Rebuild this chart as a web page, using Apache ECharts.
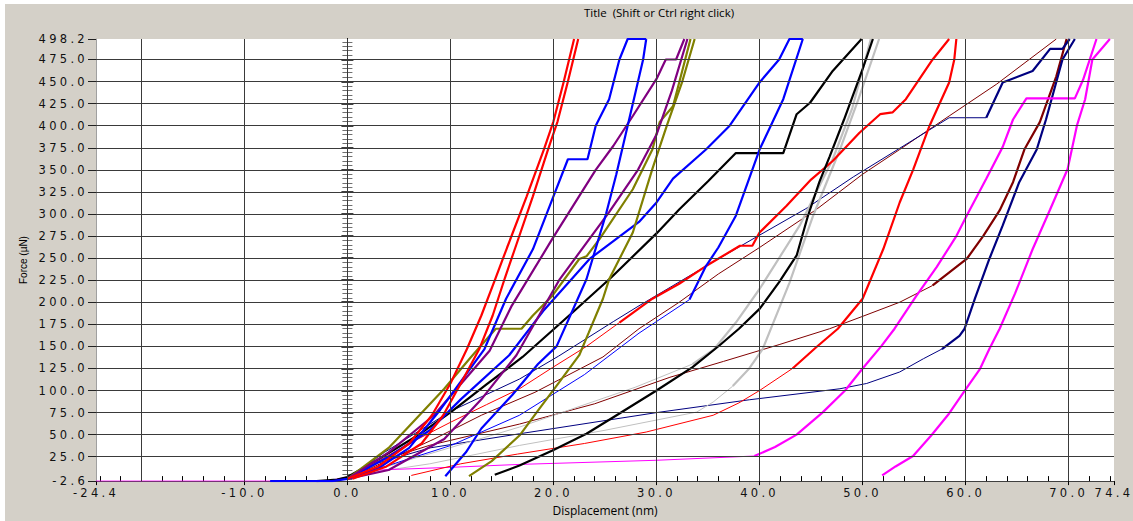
<!DOCTYPE html>
<html><head><meta charset="utf-8"><title>Force vs Displacement</title>
<script src="https://cdn.jsdelivr.net/npm/echarts@6.0.0/dist/echarts.min.js"></script>
<style>
html,body{margin:0;padding:0;background:#fff;width:1133px;height:521px;overflow:hidden;}
#chart{position:absolute;left:5px;top:4px;width:1128px;height:517px;}
#chart text[style*="DejaVu"]{letter-spacing:3.3px;}
</style></head><body><div id="chart"></div>
<script>
// ---- axis values ----
const xLabelValues = [-24.4, -10, 0, 10, 20, 30, 40, 50, 60, 70, 74.4];
const xGridValues = [-20, -10, 0, 10, 20, 30, 40, 50, 60, 70];
const yLabelValues = [-2.6, 25, 50, 75, 100, 125, 150, 175, 200, 225, 250, 275, 300, 325, 350, 375, 400, 425, 450, 475, 498.2];
const yGridValues = [25, 50, 75, 100, 125, 150, 175, 200, 225, 250, 275, 300, 325, 350, 375, 400, 425, 450, 475];
const xMin = -24.4, xMax = 74.4, yMin = -2.6, yMax = 498.2;
const xMinorValues = []; for (let v = -24; v <= 74; v += 2) xMinorValues.push(v);
const zeroMinorValues = []; for (let v = 0; v <= 495; v += 5) zeroMinorValues.push(v);
const zeroMajorValues = yGridValues;

// ---- curves: [displacement nm, force uN] ----
const r1 = [[0,0],[3,14],[6,40],[8.2,72],[10,108],[11.6,147],[13,185],[14.4,228],[15.5,262],[17.4,320],[19.1,374],[20,405],[21,450],[22,498.2]];
const r2 = [[0.5,0],[3.8,14],[7.2,40],[9.3,72],[11,108],[12.8,147],[14.1,185],[15.3,228],[16.3,262],[18,320],[19.5,374],[20.4,405],[21.4,450],[22.4,498.2]];
const r3 = [[0,0],[3,20],[6,40],[10,64],[13.5,84],[16.7,102],[19.9,126],[23.2,150],[26.4,177],[29.6,204],[32.2,221],[34.8,241],[38.1,264],[39.3,264],[40,279],[42.6,309],[45,339],[47.1,360],[49.7,392],[51.7,413],[52.9,415],[54.2,430],[56.8,475],[58.4,498.2]];
const r4 = [[6.2,3.8],[11,17],[16.5,28],[23,40],[29,53],[35.5,72],[38,86],[40,100],[43.2,125],[45.5,149],[47.6,170],[50,204],[52,260],[53.6,313],[54.9,350],[56.5,400],[58.4,449],[58.9,475],[59.1,498.2]];
const b1 = [[-7.5,-2.6],[-1.5,-2.6],[0,0],[3,12],[6,35],[9,78],[11,110],[13.3,147],[15.4,204],[18,260],[19.9,317],[21.4,362],[23.3,362],[24.1,400],[25.4,430],[26.4,475],[27.2,498.2],[29,498.2]];
const b2 = [[9.5,3],[11.5,30],[13,57],[16,95],[18.5,130],[20.3,150],[23.2,226],[25.1,300],[26.1,345],[27.2,400],[28,440],[28.7,475],[29,498.2]];
const b3 = [[0,0],[4,25],[8,55],[11,90],[15.7,140],[19,190],[23.5,249],[28.3,291],[30,313],[31.6,340],[34.8,373],[37.1,400],[40,449],[41.9,475],[42.9,498.2],[44.2,498.2]];
const b4 = [[0,0],[5,19],[10.1,38],[16.7,72],[23,118],[28.3,165],[33.2,203],[34.8,241],[36,262],[37.7,298],[40,373],[42.3,430],[44.2,498.2]];
const p1 = [[0,0],[4,30],[8.4,72],[11.2,110],[13.8,145],[15.9,195],[19.9,272],[24.1,350],[25.8,377],[27.7,411],[30,453],[30.9,475],[31.9,475],[32.7,498.2]];
const p2 = [[0,0],[4,10],[9.4,45],[13,90],[16.4,140],[20.6,226],[25.4,302],[28.2,350],[30,390],[31.5,440],[33,498.2]];
const o1 = [[0,0],[4,35],[9.4,102],[12,138],[14.4,170],[16.9,170],[18,185],[19.9,207.5],[22.5,249],[23.2,252],[24.5,272],[27.7,328],[29.6,373],[30.3,404],[31.6,422],[33.3,498.2]];
const o2 = [[11.8,3],[14,20],[16.7,49],[18.6,79],[20.6,110],[22.5,140],[23.4,165],[24.8,204],[25.4,226],[27.7,279],[29.6,351],[31,400],[32.5,450],[33.7,498.2]];
const k1 = [[-3,-2.6],[-1,-1],[0,2],[3,22],[6.8,49],[10.1,76],[13.5,107],[17,138],[21.9,189],[25.6,228],[30,278],[32.2,305],[35,337],[37.7,369],[42.3,369],[43.6,413],[44.9,426],[47.1,462],[49.9,498.2]];
const k2 = [[14.3,4.6],[16.7,15],[19.9,32],[23.2,51],[26.4,74],[30,100],[33.5,126.5],[36.1,151],[38,170],[40,192.5],[41.9,222.7],[43.6,253],[44.7,298],[45.8,336],[46.8,365],[48.2,407],[50,464],[51,498.2]];
const g1 = [[0,0],[5,18],[16.7,58.6],[28,104],[33.5,130],[35.6,147],[37.7,177],[40,215],[43.9,287],[47.1,362],[49,420],[50.8,498.2]];
const g2 = [[0,3],[8,17],[16.7,37.8],[25,55],[33.9,75.6],[35.5,87],[37.4,105],[39,125],[40.3,147],[42.9,222],[45.2,298],[47.8,373],[49.6,430],[51.6,498.2]];
const d1 = [[0,0],[8.4,45],[13,72],[18.2,98],[24.8,138],[28.3,170],[32.2,200],[36,232],[40,262],[45.5,305],[50,345],[53.6,373],[58.4,411],[63,447],[68.8,498.2]];
const d2 = [[0,0],[3.1,20],[8,38],[16.7,62],[24,85],[31.3,115],[36.5,133],[41.9,152],[46.8,170],[50,184],[53.6,200],[56.8,219],[60.1,249],[61.7,275],[63.3,304],[64.6,336],[65.7,373],[67.2,404],[68.8,456],[69.8,498.2]];
const n1 = [[0,0],[3,18],[8,35],[16.7,51],[30,75],[39,89.5],[47.8,102],[50.4,108],[53.6,121],[55.9,136],[57.7,147],[59.4,162],[59.9,170],[60.9,204],[62.3,249],[63.6,287],[65.2,336],[66.9,373],[67.8,407],[69.4,475],[70.6,498.2]];
const n2 = [[0,0],[3.6,30],[10.1,77],[16.7,113],[20.5,139],[25.8,178],[28.3,196],[35.1,243],[39.7,274],[44.5,306],[49.1,342],[58.4,409],[62,409],[63.6,449],[66.5,462],[68.2,487],[69.4,487],[70.1,498.2]];
const m1 = [[-24.4,-2.6],[-2,-2.6],[0,2],[1.9,9.5],[10,13],[16.7,16.3],[30,21],[39.5,25.8],[41.5,36],[43.6,50],[46.1,75],[48.3,100],[50,125],[51.8,150],[53.1,170],[55.2,207],[57.2,240],[59.1,275],[60.1,298],[62,340],[63.6,376],[64.6,407],[65.9,431],[70.6,431],[71.4,452],[72.7,498.2]];
const m2 = [[51.9,3.8],[53.2,14],[54.9,25.8],[56.7,49.6],[58.4,74],[59.9,99.7],[61.4,124.6],[62.3,147],[63.3,170],[64.8,210],[66.5,260],[68.2,305],[69.9,351],[70.8,400],[71.6,430],[72.3,475],[74,498.2]];

// ---- styles (separate from data) ----
const curveStyles = [
  {data: d1, color: '#800000', thickFrom: Infinity},
  {data: d2, color: '#800000', thickFrom: 56.8},
  {data: n1, color: '#000080', thickFrom: 57.7},
  {data: n2, color: '#000080', thickFrom: 62},
  {data: g1, color: '#C0C0C0', thickFrom: 33.5},
  {data: g2, color: '#C0C0C0', thickFrom: 37.4},
  {data: m1, color: '#FF00FF', thickFrom: 39.5},
  {data: m2, color: '#FF00FF', thickFrom: -Infinity},
  {data: r3, color: '#FF0000', thickFrom: 26},
  {data: r4, color: '#FF0000', thickFrom: 43},
  {data: k1, color: '#000000', thickFrom: -Infinity},
  {data: k2, color: '#000000', thickFrom: -Infinity},
  {data: b4, color: '#0000FF', thickFrom: 33.2},
  {data: b3, color: '#0000FF', thickFrom: -Infinity},
  {data: o2, color: '#808000', thickFrom: -Infinity},
  {data: o1, color: '#808000', thickFrom: -Infinity},
  {data: p2, color: '#800080', thickFrom: -Infinity},
  {data: p1, color: '#800080', thickFrom: -Infinity},
  {data: b2, color: '#0000FF', thickFrom: -Infinity},
  {data: b1, color: '#0000FF', thickFrom: -Infinity},
  {data: r2, color: '#FF0000', thickFrom: -Infinity},
  {data: r1, color: '#FF0000', thickFrom: -Infinity}
];

const series = [];
series.push({
  type: 'line', data: [], silent: true, z: 1, animation: false,
  markLine: {
    silent: true, animation: false, symbol: ['none', 'none'], label: {show: false},
    lineStyle: {color: '#3a3a3a', width: 1, type: 'solid'},
    emphasis: {disabled: true},
    data: xGridValues.map(v => ({xAxis: v})).concat(yGridValues.map(v => ({yAxis: v})))
  }
});
function lineSeries(pts, color, width, z) {
  return {type: 'line', data: pts, showSymbol: false, symbol: 'none', silent: true, animation: false,
    z: z, lineStyle: {color: color, width: width}, itemStyle: {color: color}, emphasis: {disabled: true}};
}
curveStyles.forEach((c, k) => {
  let i = c.data.findIndex(p => p[0] >= c.thickFrom);
  if (i === -1) i = c.data.length - 1;
  const thin = c.data.slice(0, i + 1);
  const thick = c.data.slice(i);
  if (thin.length > 1) series.push(lineSeries(thin, c.color, 1, 2));
  if (thick.length > 1) series.push(lineSeries(thick, c.color, 2.2, 3 + k * 0.01));
});

const fmt = v => Number(v).toFixed(1);
const tickFont = 'DejaVu Sans';
function zeroAxis(vals, inside, len, color, width) {
  return {type: 'value', min: yMin, max: yMax, position: 'left',
    axisLine: {show: true, onZero: true, onZeroAxisIndex: 0, lineStyle: {color: '#000', width: 1}},
    axisTick: {show: true, inside: inside, length: len, customValues: vals, lineStyle: {color: color, width: width}},
    axisLabel: {show: false}, splitLine: {show: false}};
}

const chart = echarts.init(document.getElementById('chart'), null, {renderer: 'svg'});
chart.setOption({
  animation: false,
  backgroundColor: '#D4D0C8',
  title: {text: 'Title \u00a0(Shift or Ctrl right click)', left: 579, top: 2, padding: 0,
    textStyle: {fontFamily: 'Open Sans', fontSize: 11.5, fontWeight: 'normal', color: '#000', lineHeight: 13}},
  grid: {left: 91, right: 19, top: 35, bottom: 39, show: true, backgroundColor: '#fff', borderWidth: 0},
  xAxis: [
    {type: 'value', min: xMin, max: xMax, position: 'bottom',
      axisLine: {show: true, onZero: false, lineStyle: {color: '#404040', width: 1}},
      axisTick: {show: true, inside: false, length: 4, customValues: xLabelValues, lineStyle: {color: '#000'}},
      axisLabel: {show: true, customValues: xLabelValues, formatter: fmt, margin: 6, color: '#111',
        fontFamily: tickFont, fontSize: 11.5, showMinLabel: true, showMaxLabel: true},
      splitLine: {show: false},
      name: 'Displacement (nm)', nameLocation: 'middle', nameGap: 22,
      nameTextStyle: {fontFamily: 'Open Sans', fontSize: 12, color: '#000'}},
    {type: 'value', min: xMin, max: xMax, position: 'bottom',
      axisLine: {show: false, onZero: false},
      axisTick: {show: true, inside: true, length: 5, customValues: xMinorValues, lineStyle: {color: '#000'}},
      axisLabel: {show: false}, splitLine: {show: false}}
  ],
  yAxis: [
    {type: 'value', min: yMin, max: yMax, position: 'left',
      axisLine: {show: true, onZero: false, lineStyle: {color: '#a0a0a0', width: 1}},
      axisTick: {show: true, inside: false, length: 8, customValues: yLabelValues, lineStyle: {color: '#202020'}},
      axisLabel: {show: true, customValues: yLabelValues, formatter: fmt, margin: 8, color: '#111',
        fontFamily: tickFont, fontSize: 11.5, showMinLabel: true, showMaxLabel: true},
      splitLine: {show: false},
      name: 'Force (\u00b5N)', nameLocation: 'middle', nameGap: 68,
      nameTextStyle: {fontFamily: 'Liberation Sans', fontSize: 10, color: '#000'}},
    zeroAxis(zeroMinorValues, false, 5, '#707070', 1),
    zeroAxis(zeroMinorValues, true, 5, '#707070', 1),
    zeroAxis(zeroMajorValues, false, 6, '#000', 1.5),
    zeroAxis(zeroMajorValues, true, 6, '#000', 1.5)
  ],
  series: series
});
</script></body></html>
